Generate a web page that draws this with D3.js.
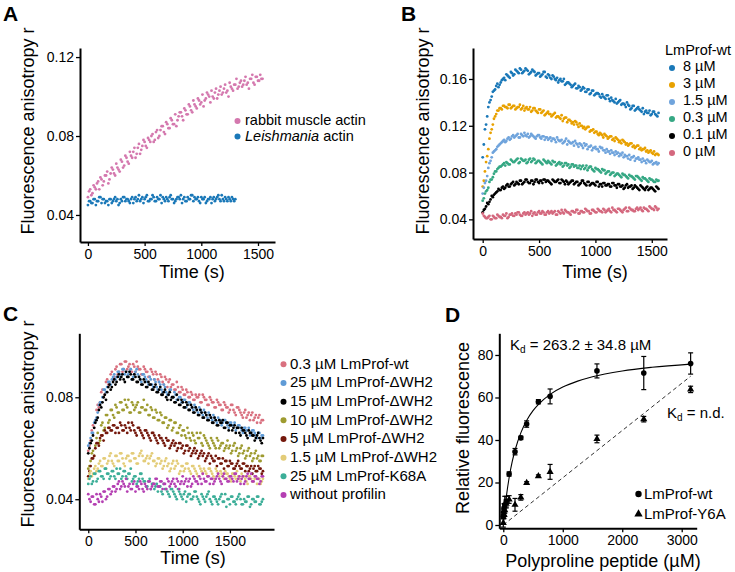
<!DOCTYPE html>
<html><head><meta charset="utf-8">
<script src="https://cdn.jsdelivr.net/npm/d3@7"></script>
<style>
body{margin:0;background:#fff;}
svg text{font-family:"Liberation Sans", Arial, Helvetica, sans-serif;fill:#000;}
</style></head><body>
<svg id="c" width="735" height="572"></svg>
<script>
// Values are in 1/1000 anisotropy units. "...H" arrays are the readings taken half a step later.
// ---------- Panel A (every 20 s) ----------
const stepA = 20;
const aRabbit = [49,53,51,54,56,53,58,57,60,56,61,63,60,64,62,67,65,69,66,70,72,69,74,71,75,77,74,78,80,77,82,79,83,85,81,86,84,88,86,85,90,92,88,93,91,95,92,96,94,98,97,95,99,101,97,100,102,99,103,101,104,102,100,105,103,106,104,107,105,108,106,104,109,107,110,108,111,109];
const aRabbitH = [52,50,55,53,57,59,55,60,62,58,64,61,66,63,68,64,70,67,72,69,74,71,76,73,78,75,79,77,81,78,83,80,85,82,87,84,89,86,91,88,92,90,94,91,96,93,98,95,99,96,101,98,102,100,103,99,104,101,105,102,106,103,107,104,106,109,105,108,106,110,107,109,111,106,110,108,109];
const aLeish = [45,47,46,48,47,49,46,48,47,45,48,47,49,48,46,47,49,48,47,48,46,49,48,47,49,48,50,47,48,49,47,48,50,49,47,48,49,48,46,48,49,50,48,47,49,48,50,49,48,47,49,48,46,48,49,48,47,49,48,50,47,48,49,47,48,48];
const aLeishH = [47,46,48,45,47,49,48,46,47,48,46,48,47,45,48,49,47,48,46,49,48,47,50,48,46,49,47,48,50,47,49,48,46,48,49,47,50,48,47,49,48,46,49,47,48,50,47,48,49,46,48,49,47,48,46,49,48,50,47,48,49,47,48,49,47];
const aLabels = ["rabbit muscle actin", "Leishmania actin"];
const aColors = ["#d478ae", "#1a78b8"];

// ---------- Panel B (every 20 s) ----------
const stepB = 20;
const b8 = [93,117,128,140,145,150,154,153,157,160,159,163,161,165,164,167,165,168,166,169,167,165,168,166,164,165,163,166,162,164,161,163,160,161,159,158,160,156,157,155,154,156,152,153,151,152,149,151,148,150,147,148,145,147,144,146,143,144,141,143,140,142,139,138,140,137,135,137,134,136,133,135,132,131,133,130,132,129,131];
const b8H = [104,121,136,142,149,151,156,155,159,161,164,162,166,163,168,166,169,165,167,168,164,166,167,163,165,162,164,166,161,163,160,162,159,157,160,158,155,157,156,153,155,152,154,150,153,149,151,147,150,146,148,147,144,145,143,146,141,142,140,139,141,138,139,136,138,134,137,133,135,134,132,130,133,131,129,132,130,128];
const b3 = [68,81,94,109,117,126,130,133,135,137,136,135,138,136,137,135,136,134,137,135,134,136,133,135,132,134,131,133,130,132,130,129,131,128,127,129,126,127,125,124,123,124,121,122,120,119,118,119,116,117,115,113,114,112,113,111,110,111,109,110,108,107,108,106,105,104,105,103,102,103,101,100,101,99,98,97,98,96,95];
const b3H = [73,89,100,114,121,128,133,135,134,137,136,138,135,137,134,136,138,135,133,136,134,132,135,133,131,134,132,129,131,130,128,130,127,128,126,124,127,123,125,122,121,123,119,120,118,117,119,115,116,114,115,112,113,110,112,109,111,108,107,109,106,105,107,104,103,105,102,101,103,100,99,100,98,97,99,96,95,96];
const b15 = [62,71,77,88,93,98,100,103,105,107,106,109,108,111,110,112,110,113,111,112,113,111,112,110,111,112,109,111,110,108,110,109,108,110,107,108,106,109,107,105,106,107,104,105,103,105,104,102,103,101,102,100,102,101,99,100,98,99,97,98,97,96,97,95,94,95,93,94,92,93,91,92,90,91,89,90,88,89,88];
const b15H = [67,73,84,90,97,99,102,104,106,108,107,110,109,112,111,113,110,112,114,111,110,113,111,109,112,110,111,108,110,109,107,109,106,108,107,105,107,104,106,105,103,105,102,104,101,103,100,102,99,101,100,98,101,99,97,98,96,97,95,96,94,95,93,94,92,91,93,90,92,91,89,90,88,90,89,87,88,87];
const b03 = [56,62,65,72,74,79,81,84,85,87,86,88,87,90,89,91,88,92,90,91,89,92,90,91,89,90,88,91,89,90,88,90,89,87,89,88,86,88,87,85,87,86,84,86,85,83,86,84,85,82,84,83,81,83,82,80,81,79,80,78,79,77,79,78,76,78,77,75,77,76,74,76,75,73,75,74,72,74,73];
const b03H = [58,64,67,74,76,81,83,85,86,88,89,87,91,89,90,92,89,91,90,88,91,89,92,88,90,89,87,90,88,89,87,89,86,88,87,85,88,86,84,87,85,86,84,83,86,84,82,85,83,81,83,82,80,82,79,81,78,80,77,79,78,76,78,77,75,77,76,74,77,75,73,75,74,72,74,73,72,73];
const b01 = [46,49,54,55,60,61,63,66,65,68,67,70,68,71,69,72,70,73,71,74,72,71,73,72,74,71,73,74,72,73,71,74,72,73,71,74,72,73,70,72,73,71,72,70,73,71,69,72,70,71,69,72,70,68,71,69,70,68,71,69,70,68,69,67,70,68,69,67,68,66,69,67,65,68,66,67,65,68,66];
const b01H = [48,51,53,57,59,62,64,65,67,66,69,68,70,72,70,71,73,70,72,74,71,73,70,74,72,73,71,74,73,72,70,73,72,74,71,73,70,72,71,73,70,72,69,71,73,70,72,69,71,70,72,68,70,71,69,70,68,71,69,67,70,68,66,69,67,68,66,69,67,65,68,66,67,65,67,66,64,67];
const b0 = [45,42,41,43,40,42,41,43,42,44,43,41,44,45,43,44,46,43,45,44,46,45,43,46,44,47,45,46,44,47,46,45,47,44,46,48,45,47,46,44,47,46,48,45,47,46,48,47,45,48,46,49,47,46,48,47,49,46,48,47,49,48,46,49,47,50,48,47,49,48,50,47,49,48,51,49,48,50,49];
const b0H = [43,41,42,40,43,41,44,42,41,43,45,42,44,43,45,46,44,43,46,45,44,47,45,44,46,45,47,44,46,45,47,46,44,47,45,46,48,46,45,47,46,48,45,47,46,49,47,45,48,47,46,48,47,49,46,48,47,50,48,46,49,47,48,50,47,49,48,47,50,49,48,50,49,47,50,49,51,48];
const bLabels = ["8 µM", "3 µM", "1.5 µM", "0.3 µM", "0.1 µM", "0 µM"];
const bColors = ["#1a78b8", "#e8a100", "#70a4dc", "#36a884", "#000000", "#d4687e"];

// ---------- Panel C (every 25 s) ----------
const stepC = 25;
const cWt03 = [59,63,69,71,77,78,83,81,87,85,90,88,92,90,93,91,94,92,91,93,90,92,91,89,91,90,88,90,87,89,86,88,85,87,86,84,85,83,84,82,83,81,82,80,81,79,80,81,78,80,79,77,79,78,76,78,77,75,77,76,75,77,74,76,75,73,74,72,74,73,71,73,72,70,71];
const cWt03H = [61,67,68,75,76,82,80,86,85,89,87,91,89,93,90,94,91,93,90,92,94,91,89,92,90,88,91,89,90,87,89,86,88,84,87,85,83,86,82,84,81,83,80,82,79,81,80,78,81,79,77,80,78,76,79,77,75,78,76,74,77,75,73,76,74,72,75,73,71,74,72,70,73,71];
const cD25 = [61,64,66,71,74,78,80,83,84,86,87,89,88,90,89,91,90,89,91,88,90,89,87,89,88,86,88,85,87,84,86,83,85,82,81,83,80,81,79,80,78,79,77,78,76,77,75,76,74,75,73,74,72,73,71,72,71,70,71,69,70,69,70,68,69,67,68,67,68,66,67,65,66,64,65];
const cD25H = [62,66,70,72,77,78,83,82,86,85,88,87,90,88,91,89,88,90,87,89,91,88,86,89,87,85,87,84,86,83,85,82,84,81,83,80,82,79,80,78,79,76,78,77,75,76,74,75,73,74,72,73,71,72,70,71,69,71,70,68,70,69,67,69,68,66,68,67,65,67,66,64,66,65];
const cD15 = [58,62,65,70,72,77,78,81,82,85,84,87,86,89,88,87,90,88,89,87,88,86,87,85,86,84,85,83,84,82,83,81,82,80,81,79,80,78,79,77,78,76,77,75,76,74,75,73,74,72,73,71,72,70,71,69,70,71,68,70,69,67,69,68,66,68,67,65,67,66,65,64,66,63,64];
const cD15H = [60,63,68,71,75,76,80,79,84,83,86,85,88,87,89,86,88,90,87,89,86,88,85,87,84,86,85,83,85,82,84,81,83,79,82,80,78,81,77,79,76,78,75,77,74,76,73,75,72,74,71,73,70,72,69,71,70,68,70,67,69,68,66,68,65,67,66,64,66,65,63,65,64,62];
const cD10 = [52,55,59,61,66,63,70,68,73,71,75,72,76,74,78,75,77,79,74,77,76,78,74,76,75,77,73,75,72,74,71,73,70,72,69,71,68,70,66,69,67,65,68,64,66,63,66,64,62,65,63,61,64,62,60,63,61,62,60,63,61,59,62,60,58,61,59,57,60,58,56,59,57,55,57];
const cD10H = [53,58,57,64,62,69,67,73,70,75,73,77,74,78,75,79,76,74,78,75,77,74,76,79,75,73,76,72,75,71,74,70,72,68,71,67,70,66,68,65,67,64,66,63,65,62,64,66,61,64,62,60,63,61,64,60,62,59,61,60,58,61,59,57,60,58,56,59,57,55,58,56,55,57];
const cD5 = [49,53,56,60,62,64,65,67,66,68,67,69,68,66,69,67,68,70,67,69,66,68,67,65,67,66,64,66,65,63,65,64,62,64,63,61,63,62,60,62,61,59,61,60,58,60,59,57,59,58,56,58,57,55,57,56,54,56,55,53,55,54,52,54,53,52,54,53,51,53,52,51,53,52,51];
const cD5H = [51,56,57,62,61,65,63,66,68,67,69,66,68,70,67,69,66,68,70,67,65,68,66,64,67,65,63,66,64,62,64,63,61,63,60,62,61,59,62,60,58,61,59,57,59,58,56,58,57,55,57,54,56,55,53,56,54,52,55,53,54,52,53,55,52,54,51,53,52,50,53,51,52,50];
const cD15b = [48,51,50,53,52,55,53,56,54,57,55,53,57,55,58,54,56,57,55,58,56,54,58,57,55,57,56,58,55,54,56,55,53,56,54,52,55,53,54,51,53,52,54,51,53,52,50,53,51,52,50,52,51,49,52,50,51,49,51,50,48,50,49,51,48,50,49,47,49,48,47,49,48,46,48];
const cD15bH = [50,49,52,51,54,53,56,52,55,58,54,57,55,58,56,53,57,55,58,56,54,57,59,55,56,54,57,55,53,56,54,52,55,53,51,54,52,55,50,53,51,54,52,50,53,51,49,52,50,51,49,52,50,48,51,49,50,48,50,49,47,50,48,49,47,49,48,46,49,47,48,46,48,47];
const cK68 = [46,49,47,50,48,51,49,52,50,48,51,49,52,50,48,51,49,50,52,48,49,47,50,48,47,45,48,46,44,46,45,43,46,44,42,44,43,41,44,42,40,43,41,42,40,43,41,39,42,40,41,43,39,41,40,38,41,39,42,40,38,41,39,40,42,38,40,39,41,38,40,39,41,38,40];
const cK68H = [48,46,50,47,51,49,48,52,50,49,51,48,50,52,49,51,48,50,47,49,46,48,50,47,45,47,44,46,45,43,45,42,44,43,41,44,42,40,43,41,42,39,42,40,41,43,40,38,41,39,42,40,38,41,39,40,42,39,37,40,41,39,38,41,40,38,39,41,37,40,39,41,38,39];
const cNone = [42,39,41,38,40,42,39,43,41,44,43,45,44,47,45,46,48,45,44,46,43,45,47,44,46,44,47,45,46,48,45,47,46,44,47,46,48,45,47,46,49,47,45,48,46,48,47,49,46,48,47,49,48,46,48,50,47,49,48,47,49,48,50,47,49,48,46,49,48,50,47,49,48,47,49];
const cNoneH = [40,41,38,42,39,41,43,40,44,42,45,43,46,44,47,45,43,46,44,47,45,44,46,43,45,47,44,46,48,45,47,44,46,48,45,47,46,48,44,47,46,48,47,45,49,47,46,48,50,47,49,46,48,47,49,48,46,50,48,47,49,47,50,48,46,49,47,50,48,47,49,48,46,49];
const cLabels = ["0.3 µM LmProf-wt", "25 µM LmProf-ΔWH2", "15 µM LmProf-ΔWH2", "10 µM LmProf-ΔWH2", "5 µM LmProf-ΔWH2", "1.5 µM LmProf-ΔWH2", "25 µM LmProf-K68A", "without profilin"];
const cColors = ["#d9707f", "#5f9bd6", "#000000", "#9e9b30", "#74180c", "#e3cc78", "#3cae98", "#b43fb2"];

// ---------- Panel D ----------
const dWtX   = [0, 6, 12, 25, 49, 98, 197, 295, 393, 590, 787, 1575, 2362, 3150];
const dWtY   = [4, 6, 8, 9.5, 11, 24, 34.5, 41, 47.5, 58, 60.5, 72.5, 71.5, 76];
const dWtErr = [1, 1.5, 2, 4, 2.5, 1, 1.5, 0.8, 1.5, 1, 3.5, 3.3, 7.8, 5];
const dY6X   = [0, 12, 25, 49, 98, 197, 295, 393, 590, 787, 1575, 2362, 3150];
const dY6Y   = [1, 5, 7, 10, 12, 9.5, 13, 19.8, 23, 25, 40.5, 49.8, 63.8];
const dY6Err = [2, 2, 3, 2, 1.8, 3, 1.3, 0.6, 0.6, 3.5, 1.8, 1.3, 1.5];
const fitX = [0, 25, 50, 100, 150, 200, 300, 400, 500, 600, 800, 1000, 1250, 1500, 2000, 2500, 3150];
const fitY = [0, 7.2, 13.1, 22.6, 29.8, 35.4, 43.7, 49.5, 53.8, 57.0, 61.7, 64.9, 67.7, 69.8, 72.5, 74.2, 75.7];
const lineX = [0, 3150];
const lineY = [0, 70];
const dLabels = ["LmProf-wt", "LmProf-Y6A"];

// ---------- drawing ----------
const svg = d3.select("#c");
const TICK_FS = 14, TITLE_FS = 18;

function axes(g, x, y, xt, yt, yfmt) {
  const ax = g.append("g").attr("transform", `translate(0,${y.range()[0]})`)
    .call(d3.axisBottom(x).tickValues(xt).tickSize(4).tickSizeOuter(0).tickPadding(3).tickFormat(d3.format("d")));
  const ay = g.append("g").attr("transform", `translate(${x.range()[0]},0)`)
    .call(d3.axisLeft(y).tickValues(yt).tickSize(4).tickSizeOuter(0).tickPadding(2).tickFormat(yfmt));
  [ax, ay].forEach(a => {
    a.select(".domain").attr("stroke", "#000").attr("stroke-width", 2);
    a.selectAll(".tick line").attr("stroke", "#000").attr("stroke-width", 1.3);
    a.selectAll(".tick text").attr("font-size", TICK_FS).attr("fill", "#000")
      .style("font-family", "'Liberation Sans', Arial, sans-serif");
  });
}
function ytitle(txt, cx, cy) {
  svg.append("text").attr("transform", `translate(${cx},${cy}) rotate(-90)`)
    .attr("text-anchor", "middle").attr("dominant-baseline", "central")
    .attr("font-size", TITLE_FS).text(txt);
}
function xtitle(txt, cx, cy) {
  svg.append("text").attr("x", cx).attr("y", cy).attr("text-anchor", "middle")
    .attr("dominant-baseline", "central").attr("font-size", TITLE_FS).text(txt);
}
function letter(t, x, y) {
  svg.append("text").attr("x", x).attr("y", y).attr("font-size", 21)
    .attr("font-weight", "bold").text(t);
}
function dots(g, x, y, series, step, offset, color) {
  g.append("g").selectAll("circle").data(series).join("circle")
    .attr("cx", (d, i) => x(offset + i * step)).attr("cy", d => y(d / 1000))
    .attr("r", 1.4).attr("fill", color);
}
const f2 = d3.format(".2f");

// Panel A
{
  const x = d3.scaleLinear().domain([-70, 1650]).range([80, 275]);
  const y = d3.scaleLinear().domain([0.0263, 0.1246]).range([242, 48]);
  const g = svg.append("g");
  dots(g, x, y, aRabbit, stepA, 0, aColors[0]);
  dots(g, x, y, aRabbitH, stepA, stepA / 2, aColors[0]);
  dots(g, x, y, aLeish, stepA, 0, aColors[1]);
  dots(g, x, y, aLeishH, stepA, stepA / 2, aColors[1]);
  axes(g, x, y, [0, 500, 1000, 1500], [0.04, 0.08, 0.12], f2);
  ytitle("Fluorescence anisotropy r", 28, 131);
  xtitle("Time (s)", 192, 272);
  letter("A", 3, 21);
  const lg = svg.append("g");
  [0, 1].forEach(i => {
    const cy = 120 + i * 15.5;
    lg.append("circle").attr("cx", 237.5).attr("cy", cy + 1).attr("r", 3).attr("fill", aColors[i]);
    const t = lg.append("text").attr("x", 245).attr("y", cy).attr("dominant-baseline", "central").attr("font-size", 14.5);
    if (i === 0) t.text(aLabels[0]);
    else {
      const parts = aLabels[1].split(" ");
      t.append("tspan").attr("font-style", "italic").text(parts[0]);
      t.append("tspan").text(" " + parts[1]);
    }
  });
}

// Panel B
{
  const x = d3.scaleLinear().domain([-86, 1635]).range([473, 667]);
  const y = d3.scaleLinear().domain([0.0232, 0.1865]).range([239, 48]);
  const g = svg.append("g");
  const series = [[b8, b8H], [b3, b3H], [b15, b15H], [b03, b03H], [b01, b01H], [b0, b0H]];
  series.forEach((s, i) => {
    dots(g, x, y, s[0], stepB, 0, bColors[i]);
    dots(g, x, y, s[1], stepB, stepB / 2, bColors[i]);
  });
  axes(g, x, y, [0, 500, 1000, 1500], [0.04, 0.08, 0.12, 0.16], f2);
  ytitle("Fluorescence anisotropy r", 423, 131);
  xtitle("Time (s)", 595, 272);
  letter("B", 401, 21);
  const lg = svg.append("g");
  lg.append("text").attr("x", 665).attr("y", 50).attr("dominant-baseline", "central").attr("font-size", 14.5).text("LmProf-wt");
  bLabels.forEach((l, i) => {
    const cy = 66 + i * 17;
    lg.append("circle").attr("cx", 672).attr("cy", cy + 2).attr("r", 3).attr("fill", bColors[i]);
    lg.append("text").attr("x", 683).attr("y", cy).attr("dominant-baseline", "central").attr("font-size", 14.5).text(l);
  });
}

// Panel C
{
  const x = d3.scaleLinear().domain([-95, 1967]).range([79.3, 274]);
  const y = d3.scaleLinear().domain([0.0282, 0.1051]).range([529.3, 333.3]);
  const g = svg.append("g");
  const series = [[cWt03, cWt03H], [cD25, cD25H], [cD15, cD15H], [cD10, cD10H], [cD5, cD5H], [cD15b, cD15bH], [cK68, cK68H], [cNone, cNoneH]];
  series.forEach((s, i) => {
    dots(g, x, y, s[0], stepC, 0, cColors[i]);
    dots(g, x, y, s[1], stepC, stepC / 2, cColors[i]);
  });
  axes(g, x, y, [0, 500, 1000, 1500], [0.04, 0.08], f2);
  ytitle("Fluorescence anisotropy r", 28, 424);
  xtitle("Time (s)", 193, 558);
  letter("C", 3, 321);
  const lg = svg.append("g");
  cLabels.forEach((l, i) => {
    const cy = 363.3 + i * 18.67;
    lg.append("circle").attr("cx", 283.5).attr("cy", cy + 1).attr("r", 3).attr("fill", cColors[i]);
    lg.append("text").attr("x", 290).attr("y", cy).attr("dominant-baseline", "central").attr("font-size", 15).text(l);
  });
}

// Panel D
{
  const x = d3.scaleLinear().domain([-67, 3252]).range([499.3, 696.7]);
  const y = d3.scaleLinear().domain([-1.55, 90.2]).range([528.3, 333.3]);
  const g = svg.append("g");
  g.append("path").datum(lineX.map((v, i) => [v, lineY[i]]))
    .attr("d", d3.line().x(d => x(d[0])).y(d => y(d[1])))
    .attr("fill", "none").attr("stroke", "#333").attr("stroke-width", 1).attr("stroke-dasharray", "4,3");
  g.append("path").datum(fitX.map((v, i) => [v, fitY[i]]))
    .attr("d", d3.line().curve(d3.curveMonotoneX).x(d => x(d[0])).y(d => y(d[1])))
    .attr("fill", "none").attr("stroke", "#000").attr("stroke-width", 1.1);
  function errbars(xs, ys, es) {
    const eg = g.append("g").attr("stroke", "#000").attr("stroke-width", 1.2);
    xs.forEach((v, i) => {
      const px = x(v), y1 = y(ys[i] - es[i]), y2 = y(ys[i] + es[i]);
      eg.append("line").attr("x1", px).attr("x2", px).attr("y1", y1).attr("y2", y2);
      eg.append("line").attr("x1", px - 2.5).attr("x2", px + 2.5).attr("y1", y1).attr("y2", y1);
      eg.append("line").attr("x1", px - 2.5).attr("x2", px + 2.5).attr("y1", y2).attr("y2", y2);
    });
  }
  errbars(dY6X, dY6Y, dY6Err);
  errbars(dWtX, dWtY, dWtErr);
  const tri = d3.symbol().type(d3.symbolTriangle).size(22);
  g.append("g").selectAll("path").data(dY6X).join("path")
    .attr("transform", (d, i) => `translate(${x(d)},${y(dY6Y[i])})`).attr("d", tri).attr("fill", "#000");
  g.append("g").selectAll("circle").data(dWtX).join("circle")
    .attr("cx", d => x(d)).attr("cy", (d, i) => y(dWtY[i])).attr("r", 2.8).attr("fill", "#000");
  axes(g, x, y, [0, 1000, 2000, 3000], [0, 20, 40, 60, 80], d3.format("d"));
  ytitle("Relative fluorescence", 463, 428);
  xtitle("Polyproline peptide (µM)", 603, 561);
  letter("D", 445, 322);
  const k1 = svg.append("text").attr("x", 510).attr("y", 350).attr("font-size", 15);
  k1.append("tspan").text("K");
  k1.append("tspan").attr("font-size", 10).attr("dy", 3).text("d");
  k1.append("tspan").attr("dy", -3).text(" = 263.2 ± 34.8 µM");
  const k2 = svg.append("text").attr("x", 667).attr("y", 418).attr("font-size", 15);
  k2.append("tspan").text("K");
  k2.append("tspan").attr("font-size", 10).attr("dy", 3).text("d");
  k2.append("tspan").attr("dy", -3).text(" = n.d.");
  const lg = svg.append("g");
  lg.append("circle").attr("cx", 638.5).attr("cy", 494).attr("r", 3.2).attr("fill", "#000");
  lg.append("path").attr("transform", "translate(638.5,514)").attr("d", d3.symbol().type(d3.symbolTriangle).size(30)).attr("fill", "#000");
  dLabels.forEach((l, i) => {
    lg.append("text").attr("x", 644).attr("y", 493 + i * 20.5).attr("dominant-baseline", "central").attr("font-size", 15).text(l);
  });
}
</script>
</body></html>
